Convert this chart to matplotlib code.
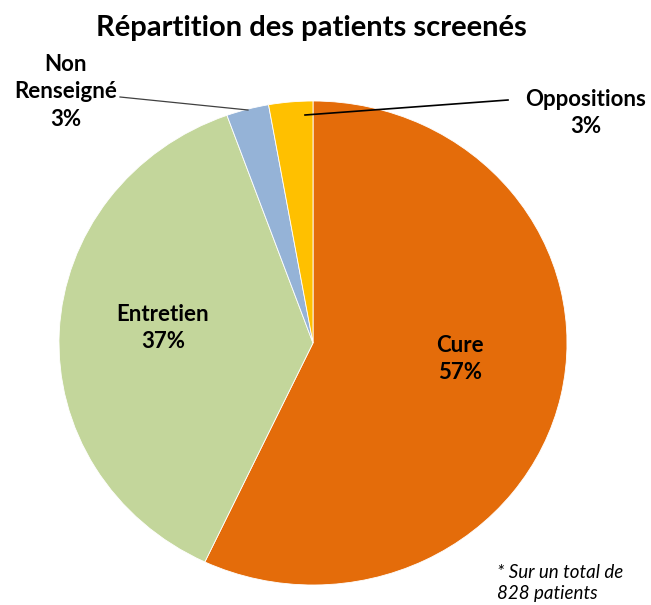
import matplotlib
matplotlib.use("Agg")
import matplotlib.pyplot as plt

categories = ["Cure", "Entretien", "Non\nRenseigné", "Oppositions"]
values = [57.0, 37.5, 2.7, 2.8]
pct_labels = ["57%", "37%", "3%", "3%"]
colors = ["#E46C0A", "#C3D69B", "#95B3D7", "#FFC000"]

W, H = 651, 605
fig = plt.figure(figsize=(W / 100, H / 100), dpi=100)
plt.rcParams['font.family'] = ['Lato', 'DejaVu Sans']

cx, cy, rx, ry = 313, 343, 254, 242
ax = fig.add_axes([(cx - rx) / W, (H - cy - ry) / H, 2 * rx / W, 2 * ry / H])
ax.pie(values, colors=colors, startangle=90, counterclock=False,
       wedgeprops=dict(edgecolor="white", linewidth=0.6))
ax.set_aspect('auto')
ax.set_xlim(-1, 1)
ax.set_ylim(-1, 1)
ax.axis('off')

ov = fig.add_axes([0, 0, 1, 1], facecolor="none")
ov.set_xlim(0, W)
ov.set_ylim(H, 0)
ov.axis('off')

fs = 16
ls = 1.4
ov.text(311, 28, "Répartition des patients screenés", ha="center", va="center",
        fontsize=21, fontweight="bold")
ov.text(460, 359, f"{categories[0]}\n{pct_labels[0]}", ha="center", va="center",
        fontsize=fs, fontweight="bold", linespacing=ls)
ov.text(163, 328, f"{categories[1]}\n{pct_labels[1]}", ha="center", va="center",
        fontsize=fs, fontweight="bold", linespacing=ls)
ov.text(66, 92, f"{categories[2]}\n{pct_labels[2]}", ha="center", va="center",
        fontsize=fs, fontweight="bold", linespacing=ls)
ov.text(586, 113, f"{categories[3]}\n{pct_labels[3]}", ha="center", va="center",
        fontsize=fs, fontweight="bold", linespacing=ls)

ov.plot([120, 248], [97, 110], color="#404040", lw=0.9)
ov.plot([305, 508], [115, 100], color="black", lw=1.2)

ov.text(497, 583, "* Sur un total de\n828 patients", ha="left", va="center",
        fontsize=13.5, fontstyle="italic", linespacing=1.22)

fig.savefig("out.png", dpi=100)
